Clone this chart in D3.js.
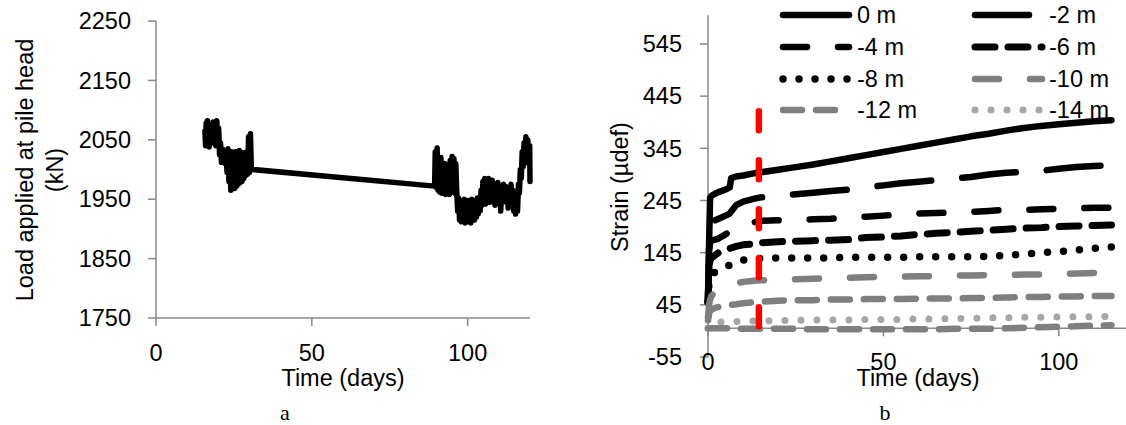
<!DOCTYPE html>
<html><head><meta charset="utf-8">
<script src="https://cdn.jsdelivr.net/npm/d3@7"></script>
<style>
body{margin:0;background:#fff;}
svg text{font-family:"Liberation Sans",Arial,sans-serif;fill:#000;}
</style></head>
<body><svg id="c" width="1126" height="425"></svg>
<script>
// ---------- Chart a: load at pile head ----------
const loadDays = [15.7,15.9,16.1,16.3,16.5,16.7,16.9,17.1,17.3,17.5,17.8,18.0,18.3,18.6,18.9,19.2,19.5,19.8,20.1,20.4,20.7,21.0,21.3,21.6,21.9,22.2,22.5,22.8,23.1,23.4,23.7,24.0,24.3,24.6,24.9,25.2,25.5,25.8,26.1,26.4,26.7,27.0,27.3,27.6,27.9,28.2,28.5,28.8,29.1,29.4,29.7,30.0,30.3,30.6,31.0,
89.4,89.6,89.9,90.2,90.5,90.8,91.1,91.4,91.7,92.0,92.3,92.6,92.9,93.2,93.5,93.8,94.1,94.4,94.7,95.0,95.3,95.6,95.9,96.2,96.5,96.8,97.1,97.4,97.7,98.0,98.3,98.6,98.9,99.2,99.5,99.8,100.1,100.4,100.7,101.0,101.3,101.6,101.9,102.2,102.5,102.8,103.1,103.4,103.7,104.0,104.3,104.6,104.9,105.2,105.5,105.8,106.1,106.4,106.7,107.0,107.3,107.6,107.9,108.2,108.5,108.8,109.1,109.4,109.7,110.0,110.3,110.6,110.9,111.2,111.5,111.8,112.1,112.4,112.7,113.0,113.3,113.6,113.9,114.2,114.5,114.8,115.1,115.4,115.7,116.0,116.3,116.6,116.9,117.2,117.5,117.8,118.1,118.4,118.7,119.0,119.3,119.6,119.9,120.0];
const loadValues = [2065,2040,2078,2050,2082,2045,2070,2038,2060,2050,2072,2045,2080,2055,2078,2040,2082,2050,2070,2025,2045,2012,2035,2015,2030,2010,2025,1995,2035,1980,2020,1965,2030,1970,2025,1968,2030,1972,2020,1975,2032,1978,2025,1980,2028,1985,2020,1990,2030,1992,2055,1995,2060,2000,2000,
1972,2030,1970,2036,1965,2012,1962,2020,1960,2005,1965,2010,1958,2000,1962,2008,1958,2015,1962,2022,1965,2018,1960,2010,1962,1930,1952,1915,1948,1912,1945,1915,1950,1910,1945,1912,1948,1915,1945,1910,1950,1918,1945,1915,1948,1920,1952,1925,1950,1930,1965,1940,1980,1945,1985,1942,1978,1948,1985,1945,1975,1950,1982,1945,1975,1940,1970,1948,1978,1945,1970,1930,1965,1945,1975,1950,1972,1945,1968,1935,1970,1948,1975,1940,1965,1930,1960,1925,1955,1930,1975,1960,2000,1985,2030,2005,2045,2015,2055,2030,2050,2010,2040,1980];
const loadYTicks = [1750,1850,1950,2050,2150,2250];
const loadXTicks = [0,50,100];

// ---------- Chart b: strain ----------
const strainDays = [0,0.3,0.6,1,2,3,5,6.2,6.6,8,10,13,15,20,25,30,35,40,45,50,55,60,65,70,75,80,85,90,95,100,105,110,115];
const strain0 = [50,160,250,254,258,261,266,270,288,291,293,297,299,304,309,314,320,326,332,338,344,350,356,362,368,373,379,384,388,391,394,397,399];
const strain2 = [50,150,200,205,207,210,216,220,224,236,243,248,251,254,257,260,263,266,270,274,278,281,284,287,290,295,298,300,302,306,309,311,313];
const strain4 = [50,140,165,168,170,172,180,186,188,195,199,203,206,207,208,209,210,212,214,216,218,220,221,222,223,225,227,227,228,229,230,231,231];
const strain6 = [50,120,130,135,140,145,150,153,154,157,160,162,164,166,167,168,169,170,174,175,177,180,182,184,186,188,190,192,193,195,196,197,198];
const strain8 = [50,90,100,103,108,112,118,121,122,127,131,133,134,135,135,135,135,136,136,136,136,137,137,137,137,138,140,142,145,147,150,153,156];
const strain10 = [20,45,55,62,70,76,80,82,83,86,89,91,92,93,94,95,96,97,98,99,99,100,100,101,101,102,102,103,103,104,105,106,107];
const strain12 = [15,28,33,36,39,41,43,44,45,46,48,50,51,53,54,54,55,55,56,56,56,57,57,57,58,58,59,60,60,61,61,62,62];
const strain14 = [0,5,8,10,11,12,12,13,13,13,13,14,14,15,15,16,16,16,17,17,17,18,18,19,19,20,20,21,21,22,22,22,23];
const strain16 = [0,0,0,0,0,0,0,0,0,-1,-1,-1,-1,-1,-1,-2,-2,-2,-2,-2,-2,-2,-2,-1,-1,-1,0,1,2,3,4,5,6];
const seriesNames = ["0 m","-2 m","-4 m","-6 m","-8 m","-10 m","-12 m","-14 m","-16 m"];
const markerDays = [14.5,14.5];
const markerValues = [416,0];
const strainYTicks = [-55,45,145,245,345,445,545];
const strainXTicks = [0,50,100];

const svg = d3.select("#c");
const FS = "23.5px";
const AX = "#898989";

// ===== chart a =====
const xa = d3.scaleLinear().domain([0,120]).range([156,530]);
const ya = d3.scaleLinear().domain([1750,2250]).range([318,21]);
const ga = svg.append("g");
ga.append("line").attr("x1",xa(0)).attr("x2",xa(0)).attr("y1",ya(1750)).attr("y2",ya(2250)).attr("stroke",AX).attr("stroke-width",1.5);
ga.append("line").attr("x1",xa(0)).attr("x2",xa(120)).attr("y1",ya(1750)).attr("y2",ya(1750)).attr("stroke",AX).attr("stroke-width",1.5);
loadYTicks.forEach(t=>{
  ga.append("line").attr("x1",xa(0)-8).attr("x2",xa(0)).attr("y1",ya(t)).attr("y2",ya(t)).attr("stroke",AX).attr("stroke-width",1.5);
  ga.append("text").attr("x",131).attr("y",ya(t)).attr("dy","0.35em").attr("text-anchor","end").style("font-size",FS).text(t);
});
loadXTicks.forEach(t=>{
  ga.append("line").attr("x1",xa(t)).attr("x2",xa(t)).attr("y1",ya(1750)).attr("y2",ya(1750)+8).attr("stroke",AX).attr("stroke-width",1.5);
  ga.append("text").attr("x",xa(t)).attr("y",353).attr("dy","0.35em").attr("text-anchor","middle").style("font-size",FS).text(t);
});
const loadPts = loadDays.map((d,i)=>[d,loadValues[i]]);
const lineA = d3.line().x(d=>xa(d[0])).y(d=>ya(d[1]));
ga.append("path").attr("d",lineA(loadPts)).attr("fill","none").attr("stroke","#000").attr("stroke-width",5.5).attr("stroke-linejoin","round").attr("stroke-linecap","round");
ga.append("text").attr("x",343).attr("y",378).attr("dy","0.35em").attr("text-anchor","middle").style("font-size",FS).text("Time (days)");
ga.append("text").attr("transform","translate(25,170) rotate(-90)").attr("dy","0.35em").attr("text-anchor","middle").style("font-size",FS).text("Load applied at pile head");
ga.append("text").attr("transform","translate(55,170) rotate(-90)").attr("dy","0.35em").attr("text-anchor","middle").style("font-size",FS).text("(kN)");
ga.append("text").attr("x",285).attr("y",420).attr("text-anchor","middle").style("font-family","'Liberation Serif','Times New Roman',serif").style("font-size","22px").text("a");

// ===== chart b =====
const xb = d3.scaleLinear().domain([0,120]).range([708,1129]);
const yb = d3.scaleLinear().domain([-55,600]).range([357,15.3]);
const gb = svg.append("g");
gb.append("line").attr("x1",xb(0)).attr("x2",xb(0)).attr("y1",yb(-55)).attr("y2",yb(600)).attr("stroke",AX).attr("stroke-width",1.5);
gb.append("line").attr("x1",xb(0)).attr("x2",xb(120)).attr("y1",yb(0)).attr("y2",yb(0)).attr("stroke",AX).attr("stroke-width",1.5);
strainYTicks.forEach(t=>{
  gb.append("line").attr("x1",xb(0)-8).attr("x2",xb(0)).attr("y1",yb(t)).attr("y2",yb(t)).attr("stroke",AX).attr("stroke-width",1.5);
  gb.append("text").attr("x",682).attr("y",yb(t)).attr("dy","0.35em").attr("text-anchor","end").style("font-size",FS).text(t);
});
strainXTicks.forEach(t=>{
  gb.append("line").attr("x1",xb(t)).attr("x2",xb(t)).attr("y1",yb(0)).attr("y2",yb(0)+8).attr("stroke",AX).attr("stroke-width",1.5);
  gb.append("text").attr("x",xb(t)).attr("y",362).attr("dy","0.35em").attr("text-anchor","middle").style("font-size",FS).text(t);
});
const styles = [
  {c:"#000",w:6.5,da:null},
  {c:"#000",w:6.5,da:"54,31"},
  {c:"#000",w:6.5,da:"24,31"},
  {c:"#000",w:7,da:"20,13"},
  {c:"#000",w:7.5,da:"0,16"},
  {c:"#7f7f7f",w:6.5,da:"24,31"},
  {c:"#7f7f7f",w:6.5,da:"19,14"},
  {c:"#a6a6a6",w:7,da:"0,16"},
  {c:"#7f7f7f",w:6.5,da:"19,14"}
];
const allStrain = [strain0,strain2,strain4,strain6,strain8,strain10,strain12,strain14,strain16];
const lineB = d3.line().x(d=>xb(d[0])).y(d=>yb(d[1]));
allStrain.forEach((vals,i)=>{
  const pts = strainDays.map((d,j)=>[d,vals[j]]);
  const st = styles[i];
  const p = gb.append("path").attr("d",lineB(pts)).attr("fill","none").attr("stroke",st.c).attr("stroke-width",st.w).attr("stroke-linecap","round").attr("stroke-linejoin","round");
  if(st.da) p.attr("stroke-dasharray",st.da);
});
gb.append("path").attr("d",lineB(markerDays.map((d,i)=>[d,markerValues[i]]))).attr("fill","none").attr("stroke","#ff0000").attr("stroke-width",6.5).attr("stroke-linecap","round").attr("stroke-dasharray","19,30");

// legend
const legRows = [15,47,79,110];
const legCols = [{x1:783,x2:849,tx:857},{x1:975,x2:1042,tx:1049}];
for(let i=0;i<8;i++){
  const r = Math.floor(i/2), c = i%2;
  const st = styles[i], col = legCols[c];
  const l = gb.append("line").attr("x1",col.x1).attr("x2",col.x2).attr("y1",legRows[r]).attr("y2",legRows[r]).attr("stroke",st.c).attr("stroke-width",st.w).attr("stroke-linecap","round");
  if(st.da) l.attr("stroke-dasharray",st.da);
  gb.append("text").attr("x",col.tx).attr("y",legRows[r]).attr("dy","0.35em").style("font-size",FS).text(seriesNames[i]);
}
gb.append("text").attr("x",918).attr("y",378).attr("dy","0.35em").attr("text-anchor","middle").style("font-size",FS).text("Time (days)");
gb.append("text").attr("transform","translate(620,187) rotate(-90)").attr("dy","0.35em").attr("text-anchor","middle").style("font-size",FS).text("Strain (µdef)");
gb.append("text").attr("x",885).attr("y",420).attr("text-anchor","middle").style("font-family","'Liberation Serif','Times New Roman',serif").style("font-size","22px").text("b");
</script></body></html>
